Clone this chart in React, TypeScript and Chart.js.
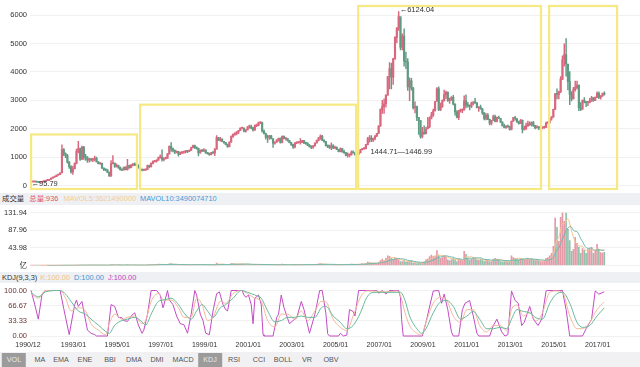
import React, { useEffect, useRef } from 'react';
import { Chart, registerables } from 'chart.js';

Chart.register(...registerables);

const FONT = "'Liberation Sans', 'Noto Sans CJK SC', Arial, sans-serif";

// Monthly data, first month 1990/12
const firstOpen = 96.05;
const closes = [
  127.61,
  129.97, 133.01, 120.19, 113.94, 114.83, 137.56, 145.03, 178.43, 180.92, 218.6, 259.6, 292.75,
  313.24, 364.45, 384.05, 445, 1265.79, 1119.38, 1042.01, 820, 660, 480, 590, 780.39,
  1200, 1300, 930, 1350, 1000, 980, 900, 920, 900, 930, 960, 833,
  770, 780, 610, 560, 550, 470, 333, 770, 790, 670, 710, 648,
  560, 550, 650, 560, 700, 630, 720, 750, 720, 720, 620, 555,
  540, 540, 570, 700, 660, 780, 850, 860, 890, 980, 1000, 917,
  950, 960, 1110, 1380, 1300, 1240, 1170, 1200, 1100, 1160, 1170, 1194,
  1220, 1200, 1240, 1330, 1410, 1340, 1310, 1150, 1240, 1210, 1250, 1146,
  1130, 1090, 1160, 1150, 1280, 1690, 1600, 1630, 1550, 1510, 1440, 1367,
  1530, 1720, 1800, 1840, 1890, 1930, 2020, 2020, 1910, 1960, 2070, 2073,
  2030, 1960, 2110, 2120, 2210, 2220, 1920, 1830, 1700, 1690, 1750, 1646,
  1490, 1530, 1600, 1660, 1520, 1730, 1650, 1650, 1580, 1510, 1440, 1357,
  1500, 1510, 1520, 1520, 1580, 1490, 1480, 1420, 1370, 1350, 1400, 1497,
  1590, 1680, 1740, 1590, 1550, 1400, 1390, 1340, 1400, 1320, 1340, 1266,
  1190, 1300, 1180, 1160, 1060, 1080, 1080, 1160, 1155, 1090, 1100, 1161,
  1260, 1300, 1300, 1440, 1640, 1670, 1610, 1660, 1750, 1840, 2100, 2675,
  2790, 2880, 3180, 3840, 4110, 3820, 4470, 5220, 5550, 5950, 4870, 5260,
  4380, 4350, 3470, 3690, 3430, 2740, 2780, 2400, 2290, 1730, 1870, 1820,
  1990, 2080, 2370, 2480, 2630, 2960, 3410, 2670, 2780, 2990, 3200, 3280,
  2990, 3050, 3110, 2870, 2590, 2400, 2640, 2640, 2660, 2980, 2820, 2810,
  2790, 2900, 2930, 2910, 2740, 2760, 2700, 2570, 2360, 2470, 2330, 2199,
  2290, 2430, 2260, 2400, 2370, 2230, 2100, 2050, 2090, 2070, 1980, 2270,
  2390, 2360, 2240, 2180, 2300, 1980, 1990, 2100, 2170, 2140, 2220, 2116,
  2030, 2060, 2030, 2030, 2040, 2050, 2200, 2220, 2360, 2420, 2680, 3234,
  3210, 3310, 3750, 4440, 4610, 4280, 3660, 3210, 3050, 3380, 3450, 3540,
  2740, 2690, 3000, 2940, 2920, 2930, 2980, 3090, 3000, 3100, 3250, 3100,
  3160, 3240, 3220,
];
const highs = [
  127.61,
  131, 134, 134, 121, 115, 138, 146, 180, 191, 219, 260, 293,
  320, 365, 390, 445, 1429, 1300, 1150, 1100, 850, 700, 680, 800,
  1280, 1558, 1320, 1392, 1380, 1100, 1020, 960, 950, 960, 1040, 1000,
  840, 800, 790, 620, 580, 560, 470, 880, 1052, 790, 760, 720,
  650, 570, 650, 660, 926, 720, 740, 780, 800, 760, 730, 640,
  560, 560, 590, 720, 720, 800, 870, 880, 900, 1000, 1080, 1258,
  980, 1000, 1130, 1400, 1510, 1320, 1260, 1220, 1200, 1180, 1190, 1210,
  1240, 1230, 1260, 1350, 1420, 1420, 1360, 1320, 1260, 1270, 1300, 1260,
  1170, 1140, 1170, 1190, 1300, 1756, 1700, 1700, 1650, 1560, 1520, 1460,
  1540, 1750, 1820, 1860, 1900, 1940, 2030, 2040, 2030, 1970, 2080, 2125,
  2130, 2050, 2140, 2160, 2230, 2245, 2230, 1960, 1850, 1780, 1770, 1770,
  1650, 1540, 1620, 1670, 1680, 1750, 1750, 1680, 1650, 1590, 1520, 1450,
  1510, 1530, 1540, 1650, 1590, 1590, 1530, 1510, 1440, 1400, 1410, 1500,
  1600, 1690, 1783, 1770, 1620, 1560, 1420, 1420, 1500, 1440, 1390, 1360,
  1270, 1330, 1310, 1250, 1170, 1150, 1100, 1220, 1225, 1160, 1110, 1180,
  1270, 1300, 1310, 1450, 1700, 1760, 1760, 1670, 1760, 1840, 2100, 2700,
  3000, 3050, 3200, 3850, 4330, 4310, 4480, 5250, 5560, 6124.04, 5900, 5340,
  5520, 4700, 4470, 3790, 3780, 3460, 2950, 2800, 2400, 2300, 2050, 2100,
  2050, 2400, 2420, 2580, 2690, 2960, 3450, 3480, 2900, 3020, 3360, 3330,
  3300, 3080, 3130, 3180, 2880, 2640, 2650, 2690, 2700, 3160, 3190, 2930,
  2840, 2940, 2960, 3070, 2920, 2770, 2830, 2720, 2560, 2540, 2530, 2340,
  2300, 2480, 2480, 2410, 2450, 2370, 2240, 2160, 2110, 2130, 2090, 2270,
  2400, 2440, 2340, 2270, 2330, 2310, 2090, 2200, 2270, 2240, 2240, 2260,
  2120, 2110, 2080, 2090, 2060, 2090, 2230, 2250, 2370, 2430, 2690, 3240,
  3410, 3330, 3840, 4570, 4990, 5178, 4180, 4010, 3310, 3460, 3680, 3680,
  3540, 2920, 3020, 3100, 2950, 2960, 3070, 3140, 3100, 3120, 3300, 3300,
  3170, 3260, 3300,
];
const lows = [
  95.79,
  127, 129, 120, 105, 104, 114, 136, 145, 170, 180, 218, 259,
  290, 312, 360, 380, 617, 1050, 980, 790, 600, 430, 386, 580,
  760, 1150, 880, 910, 920, 880, 810, 820, 860, 840, 870, 830,
  760, 740, 600, 520, 510, 450, 325, 330, 760, 640, 650, 600,
  540, 524, 540, 550, 540, 600, 620, 690, 700, 690, 610, 540,
  512, 520, 530, 560, 620, 650, 760, 820, 820, 880, 960, 855,
  870, 930, 950, 1100, 1200, 1180, 1120, 1150, 1030, 1090, 1120, 1130,
  1150, 1160, 1190, 1240, 1320, 1300, 1280, 1040, 1140, 1190, 1200, 1130,
  1100, 1060, 1080, 1120, 1050, 1280, 1580, 1560, 1540, 1480, 1430, 1340,
  1360, 1530, 1690, 1760, 1780, 1830, 1930, 1990, 1890, 1880, 1960, 2010,
  1990, 1910, 1940, 2070, 2100, 2180, 1880, 1820, 1630, 1514, 1620, 1640,
  1340, 1460, 1520, 1560, 1490, 1500, 1640, 1600, 1560, 1500, 1410, 1310,
  1320, 1470, 1490, 1460, 1510, 1470, 1450, 1400, 1350, 1300, 1310, 1380,
  1490, 1570, 1620, 1580, 1520, 1390, 1330, 1300, 1260, 1300, 1300, 1260,
  1180, 1180, 1170, 1130, 1040, 998, 1004, 1070, 1130, 1060, 1080, 1090,
  1150, 1250, 1270, 1290, 1430, 1530, 1540, 1540, 1610, 1720, 1830, 2080,
  2540, 2540, 2760, 3180, 3400, 3400, 3560, 4440, 5030, 5460, 4780, 4780,
  4200, 4120, 3350, 2990, 3360, 2690, 2560, 2280, 1800, 1664, 1680, 1810,
  1840, 2040, 2040, 2350, 2430, 2630, 2990, 2640, 2640, 2750, 2970, 3060,
  2960, 2890, 3000, 2840, 2480, 2380, 2320, 2580, 2570, 2650, 2730, 2760,
  2660, 2740, 2840, 2890, 2730, 2610, 2690, 2500, 2310, 2310, 2320, 2130,
  2130, 2290, 2240, 2240, 2360, 2220, 2100, 2030, 2010, 2050, 1950, 1960,
  2260, 2300, 2220, 2160, 2180, 1849, 1950, 1980, 2080, 2120, 2090, 2080,
  1990, 2030, 1970, 2000, 1990, 2010, 2050, 2190, 2200, 2300, 2400, 2670,
  3050, 3050, 3270, 3730, 4200, 3850, 3370, 2850, 2980, 3050, 3320, 3400,
  2640, 2640, 2680, 2910, 2780, 2810, 2910, 2960, 2960, 2990, 3090, 3060,
  3040, 3140, 3180,
];
// Volume, unit 亿
const volumes = [
  0.05,
  0.05, 0.05, 0.05, 0.05, 0.05, 0.05, 0.1, 0.1, 0.1, 0.1, 0.1, 0.2,
  0.2, 0.2, 0.3, 0.3, 0.5, 0.4, 0.3, 0.3, 0.3, 0.3, 0.5, 0.6,
  0.8, 1, 0.8, 1, 0.7, 0.8, 0.8, 0.8, 0.8, 0.9, 1, 0.9,
  0.6, 0.5, 0.8, 0.7, 0.7, 0.5, 0.6, 2.5, 2.6, 1.2, 1.2, 0.9,
  0.6, 0.5, 0.7, 0.6, 2, 0.8, 1.2, 1.3, 0.9, 0.8, 0.7, 0.6,
  0.5, 0.6, 0.9, 2, 1.8, 2.5, 2.6, 2.2, 2, 3.5, 3.2, 3,
  1.5, 1.8, 2.5, 4, 4.5, 2.5, 1.8, 2, 1.6, 1.8, 1.5, 1.6,
  1.6, 1.5, 2.2, 2.5, 3.2, 2.5, 2.4, 2, 2.2, 1.8, 2, 1.4,
  1.2, 1, 1.6, 1.3, 2.5, 6, 3.5, 3, 2.5, 1.6, 1.3, 1.2,
  3, 5, 4.5, 3.8, 3.5, 3, 3.5, 3.8, 2.8, 2.2, 3.5, 3,
  2, 1.8, 3, 2.5, 2.6, 2.5, 2.4, 2, 1.8, 2.2, 2, 1.6,
  1.4, 1.3, 1.8, 2, 1.8, 3.5, 2.2, 1.6, 1.4, 1.3, 1.4, 1.5,
  2.2, 1.8, 2, 3, 2.6, 2.2, 2, 1.8, 1.6, 1.8, 2.2, 2.6,
  3, 4, 5, 3.5, 2.5, 2.2, 2, 2, 2.5, 2, 2, 1.8,
  1.8, 2.5, 2.5, 2.8, 2.6, 3, 2.5, 3.5, 2.8, 2.2, 2.2, 3,
  3.5, 4.5, 3.8, 5.5, 8.5, 7.5, 6, 4.5, 5, 4.5, 8, 12,
  16, 12, 18, 24, 23, 18, 15, 18, 16, 14, 10, 10,
  12, 8, 9, 10, 12, 6, 7, 5, 7, 6, 8, 9,
  14, 16, 22, 26, 22, 24, 37, 25, 18, 20, 25, 22,
  14, 12, 15, 18, 15, 10, 16, 15, 12, 35, 28, 18,
  14, 16, 20, 18, 15, 13, 16, 14, 10, 14, 13, 10,
  10, 16, 18, 16, 14, 10, 9, 10, 10, 9, 10, 24,
  20, 18, 16, 13, 18, 17, 14, 16, 18, 15, 17, 13,
  12, 14, 12, 10, 10, 12, 18, 20, 24, 30, 48, 118,
  95, 60, 120, 131.94, 110, 131, 90, 62, 35, 40, 70, 55,
  45, 30, 42, 38, 30, 40, 42, 45, 30, 36, 53, 40,
  32, 31, 33,
];

// KDJ lines: [month index, value]
const kLine: [number, number][] = [
  [0, 93], [4, 83], [8, 100], [16, 100], [19, 83], [22, 55], [26, 62], [30, 55], [33, 27], [37, 13], [41, 3], [43, 27],
  [46, 48], [50, 37], [53, 41], [57, 44], [61, 27], [63, 34], [66, 76], [70, 93], [73, 79], [77, 79], [81, 62], [84, 41],
  [88, 41], [91, 83], [94, 69], [97, 34], [100, 41], [104, 76], [107, 72], [111, 93], [115.5, 100], [119, 93], [123, 83],
  [126.5, 76], [130, 34], [134, 20], [137.5, 48], [141, 48], [145, 37], [148.5, 55], [152, 34], [156, 55], [159.5, 76],
  [162, 75], [166, 37], [170, 19], [173.5, 12], [177, 44], [181, 85], [184.5, 99], [188, 99], [195, 97], [201, 99],
  [203, 89], [205.5, 51], [208, 23], [212, 6], [214.6, 2], [217, 30], [221, 72], [225, 85], [228.5, 78], [232, 44],
  [236, 30], [239.5, 58], [243, 58], [246.5, 23], [250.4, 9], [254, 23], [257.7, 23], [261.4, 12], [264, 58], [267, 68],
  [270.5, 44], [274, 51], [277.5, 33], [281, 51], [285, 96], [288.6, 99], [292, 96], [296, 44], [300, 16], [303, 16],
  [307, 30], [311, 58], [315, 75],
];
const dLine: [number, number][] = [
  [0, 96], [4, 86], [8, 97], [16, 100], [19, 92], [22, 76], [26, 55], [30, 48], [33, 37], [37, 24], [41, 10], [43, 6],
  [46, 24], [50, 34], [53, 37], [57, 41], [61, 31], [63, 24], [66, 48], [70, 76], [73, 79], [77, 83], [81, 69], [84, 51],
  [88, 37], [91, 55], [94, 69], [97, 55], [100, 41], [104, 62], [107, 69], [111, 83], [115.5, 100], [119, 96], [123, 90],
  [126.5, 83], [130, 55], [134, 31], [137.5, 34], [141, 41], [145, 41], [148.5, 44], [152, 41], [156, 41], [159.5, 62],
  [162, 65], [166, 44], [170, 30], [173.5, 16], [177, 23], [181, 51], [184.5, 85], [188, 96], [201, 96], [203, 96],
  [205.5, 78], [208, 44], [212, 16], [214.6, 6], [217, 16], [221, 51], [225, 75], [228.5, 78], [232, 65], [236, 37],
  [239.5, 44], [243, 54], [246.5, 37], [250.4, 16], [254, 16], [257.7, 19], [261.4, 16], [264, 37], [267, 58],
  [270.5, 54], [274, 51], [277.5, 40], [281, 37], [285, 72], [288.6, 92], [292, 96], [296, 72], [300, 30], [303, 19],
  [307, 23], [311, 44], [315, 62],
];
const jLine: [number, number][] = [
  [0, 100], [2, 70], [4, 37], [6, 90], [8, 100], [16, 100], [18, 60], [21, 3], [24, 69], [25, 79], [26, 65], [28, 76],
  [29, 55], [31, 13], [33, 6], [35, 3], [36, 0], [42, 0], [44, 69], [46, 65], [48, 41], [50, 40], [51, 34], [53, 32],
  [55, 44], [57, 51], [59, 24], [61, 6], [62, 13], [64, 48], [66, 100], [69, 100], [71, 90], [72.5, 62], [73, 68],
  [75, 100], [76, 79], [78, 69], [80, 44], [82, 27], [84, 25], [86, 6], [88, 48], [90, 100], [91, 90], [93, 48],
  [94.5, 34], [96, 6], [98, 3], [100, 55], [102, 93], [103.5, 97], [105.5, 69], [107, 58], [108, 55], [110, 100],
  [116, 100], [117, 90], [118, 85], [119.5, 90], [121, 69], [122, 27], [123, 83], [125, 90], [126.5, 69], [127.5, 3],
  [128, 0], [133, 0], [135, 41], [136, 48], [137.5, 90], [139, 62], [142, 27], [144, 34], [146, 40], [148.5, 76],
  [150, 58], [153, 6], [156, 48], [158.6, 100], [160, 100], [162, 50], [163, 5], [164, 0], [169, 0], [170, 6],
  [171.6, 0], [173.5, 2], [175, 58], [177, 54], [178, 44], [180, 100], [190, 100], [191, 94], [193, 100], [195, 92],
  [197, 100], [202, 100], [203, 85], [203.6, 37], [204.5, 0], [215, 0], [217, 30], [221, 99], [224, 100], [225.6, 72],
  [227, 92], [229, 58], [231, 9], [232, 0], [235, 0], [237, 58], [238.5, 72], [241, 78], [243, 44], [245, 6], [246, 0],
  [252, 0], [254, 23], [256, 37], [258.6, 9], [260.4, 0], [262, 3], [264, 99], [266, 78], [267.7, 72], [269.6, 23],
  [271, 30], [274, 65], [276, 37], [278.6, 23], [280.6, 37], [283, 99], [284, 100], [292, 100], [294, 58], [296, 0],
  [303, 0], [305, 16], [308, 37], [310, 99], [312, 92], [315, 97],
];

const priceTicks = [0, 1000, 2000, 3000, 4000, 5000, 6000];
const volTicks = [0, 43.98, 87.96, 131.94];
const kdjTicks = [0, 33.33, 66.67, 100];
const dateLabels = ['1990/12', '1993/01', '1995/01', '1997/01', '1999/01', '2001/01', '2003/01', '2005/01',
  '2007/01', '2009/01', '2011/01', '2013/01', '2015/01', '2017/01'];
const tabs = ['VOL', 'MA', 'EMA', 'ENE', 'BBI', 'DMA', 'DMI', 'MACD', 'KDJ', 'RSI', 'CCI', 'BOLL', 'VR', 'OBV'];
const activeTabs = ['VOL', 'KDJ'];
const tabCenters = [14, 40, 61, 85, 110, 134, 157, 183, 210, 234, 259, 283, 307, 331];

// highlight boxes (month-index ranges, top value)
const boxes = [
  { from: -0.6, to: 58.2, top: 1797 },
  { from: 59.3, to: 178.6, top: 2847 },
  { from: 179.1, to: 280.2, top: null },
  { from: 284, to: 322, top: null },
];

const X_MIN = -0.55;
const X_MAX = 334.6;
const UP = '#d9677e';
const DOWN = '#5f9a83';

const monthIndex = (label: string) => {
  const [y, m] = label.split('/').map(Number);
  return (y - 1990) * 12 + (m - 12);
};
const opens = closes.map((c, i) => (i === 0 ? firstOpen : closes[i - 1]));
const isUp = closes.map((c, i) => c >= opens[i]);
const movingAvg = (arr: number[], n: number) =>
  arr.map((_, i) => (i < n - 1 ? null : arr.slice(i - n + 1, i + 1).reduce((a, b) => a + b, 0) / n));

const fixedWidth = (w: number) => (scale: any) => { scale.width = w; };

function PriceChart() {
  const ref = useRef<HTMLCanvasElement>(null);
  useEffect(() => {
    const overlay = {
      id: 'overlay',
      afterDatasetsDraw(chart: any) {
        const { ctx, chartArea, scales } = chart;
        const xs = scales.x; const ys = scales.y;
        ctx.save();
        ctx.strokeStyle = 'rgba(245, 232, 125, 0.95)';
        ctx.lineWidth = 2.2;
        boxes.forEach((b) => {
          const l = xs.getPixelForValue(b.from);
          const r = xs.getPixelForValue(b.to);
          const t = b.top === null ? chartArea.top - 1.5 : ys.getPixelForValue(b.top);
          const bt = chartArea.bottom + 3.5;
          ctx.strokeRect(l + 1.2, t, r - l - 1.2, bt - t);
        });
        ctx.fillStyle = '#333';
        ctx.font = `7.5px ${FONT}`;
        ctx.textBaseline = 'middle';
        ctx.textAlign = 'left';
        const minIdx = lows.indexOf(Math.min(...lows));
        const maxIdx = highs.indexOf(Math.max(...highs));
        ctx.fillText('←' + lows[minIdx].toFixed(2), xs.getPixelForValue(minIdx) + 0.5, ys.getPixelForValue(lows[minIdx]) + 1);
        ctx.fillText('←' + highs[maxIdx].toFixed(2), xs.getPixelForValue(maxIdx) + 1, ys.getPixelForValue(highs[maxIdx]) - 2);
        ctx.fillText('1444.71—1446.99', xs.getPixelForValue(186.5), ys.getPixelForValue(1200));
        ctx.restore();
      },
    };
    const chart = new Chart(ref.current!, {
      type: 'bar',
      data: {
        datasets: [
          {
            data: closes.map((c, i) => ({ x: i, y: [lows[i], highs[i]] })) as any,
            backgroundColor: isUp.map((u) => (u ? UP : DOWN)),
            barThickness: 0.8,
            grouped: false,
            order: 2,
          } as any,
          {
            data: closes.map((c, i) => ({ x: i, y: [opens[i], c] })) as any,
            backgroundColor: isUp.map((u) => (u ? UP : DOWN)),
            barThickness: 1.5,
            minBarLength: 1,
            grouped: false,
            order: 1,
          } as any,
        ],
      },
      options: {
        animation: false,
        responsive: false,
        maintainAspectRatio: false,
        events: [],
        layout: { padding: { top: 3, bottom: 5, left: 0, right: 0 } },
        plugins: { legend: { display: false }, tooltip: { enabled: false } },
        scales: {
          x: { type: 'linear', min: X_MIN, max: X_MAX, offset: false, display: false },
          y: {
            min: 0, max: 6271,
            afterFit: fixedWidth(30),
            afterBuildTicks: (s: any) => { s.ticks = priceTicks.map((v) => ({ value: v })); },
            grid: { color: '#f1f1f1', drawTicks: false },
            border: { display: false },
            ticks: {
              padding: 3, color: '#333', font: { size: 7.5, family: FONT },
              callback: (v: any) => String(v),
            },
          },
        },
      },
      plugins: [overlay],
    } as any);
    return () => chart.destroy();
  }, []);
  return <canvas ref={ref} width={640} height={193} style={{ position: 'absolute', left: 0, top: 0 }} />;
}

function VolumeChart() {
  const ref = useRef<HTMLCanvasElement>(null);
  useEffect(() => {
    const chart = new Chart(ref.current!, {
      type: 'bar',
      data: {
        datasets: [
          {
            type: 'line',
            data: movingAvg(volumes, 10).map((v, i) => ({ x: i, y: v })) as any,
            borderColor: '#6fb9b0', borderWidth: 1, pointRadius: 0, tension: 0.3, order: 0,
          } as any,
          {
            type: 'line',
            data: movingAvg(volumes, 5).map((v, i) => ({ x: i, y: v })) as any,
            borderColor: '#f2c48e', borderWidth: 1, pointRadius: 0, tension: 0.3, order: 1,
          } as any,
          {
            data: volumes.map((v, i) => ({ x: i, y: v })) as any,
            backgroundColor: isUp.map((u) => (u ? 'rgba(220,110,130,0.7)' : 'rgba(100,165,135,0.7)')),
            barThickness: 1,
            grouped: false,
            order: 2,
          } as any,
        ],
      },
      options: {
        animation: false,
        responsive: false,
        maintainAspectRatio: false,
        events: [],
        layout: { padding: { top: 4, bottom: 4, left: 0, right: 0 } },
        plugins: { legend: { display: false }, tooltip: { enabled: false } },
        scales: {
          x: { type: 'linear', min: X_MIN, max: X_MAX, offset: false, display: false },
          y: {
            min: 0, max: 131.94,
            afterFit: fixedWidth(30),
            afterBuildTicks: (s: any) => { s.ticks = volTicks.map((v) => ({ value: v })); },
            grid: { color: '#f1f1f1', drawTicks: false },
            border: { display: false },
            ticks: {
              padding: 3, color: '#333', font: { size: 7.5, family: FONT },
              callback: (v: any) => (v === 0 ? '亿' : Number(v).toFixed(2)),
            },
          },
        },
      },
    } as any);
    return () => chart.destroy();
  }, []);
  return <canvas ref={ref} width={640} height={68} style={{ position: 'absolute', left: 0, top: 205 }} />;
}

function KdjChart() {
  const ref = useRef<HTMLCanvasElement>(null);
  useEffect(() => {
    const toPts = (arr: [number, number][]) => arr.map(([x, y]) => ({ x, y }));
    const dateAxis = {
      id: 'dateAxis',
      afterDraw(chart: any) {
        const { ctx, chartArea, scales } = chart;
        ctx.save();
        ctx.fillStyle = '#333';
        ctx.font = `7px ${FONT}`;
        ctx.textAlign = 'center';
        ctx.textBaseline = 'middle';
        dateLabels.forEach((l) => {
          ctx.fillText(l, scales.x.getPixelForValue(monthIndex(l)) - 3, chartArea.bottom + 9);
        });
        ctx.restore();
      },
    };
    const chart = new Chart(ref.current!, {
      type: 'line',
      data: {
        datasets: [
          { data: toPts(dLine), borderColor: '#67b99a', borderWidth: 1, pointRadius: 0, cubicInterpolationMode: 'monotone', clip: false },
          { data: toPts(kLine), borderColor: '#f3b79c', borderWidth: 1, pointRadius: 0, cubicInterpolationMode: 'monotone', clip: false },
          { data: toPts(jLine), borderColor: '#c24cc4', borderWidth: 1, pointRadius: 0, tension: 0, clip: false },
        ],
      },
      options: {
        animation: false,
        responsive: false,
        maintainAspectRatio: false,
        events: [],
        layout: { padding: { top: 5, bottom: 0, left: 0, right: 0 } },
        plugins: { legend: { display: false }, tooltip: { enabled: false } },
        scales: {
          x: {
            type: 'linear', min: X_MIN, max: X_MAX, offset: false,
            afterFit: (s: any) => { s.height = 16; },
            grid: { display: false, drawTicks: false },
            border: { display: false },
            ticks: { display: false },
          },
          y: {
            min: 0, max: 100,
            afterFit: fixedWidth(30),
            afterBuildTicks: (s: any) => { s.ticks = kdjTicks.map((v) => ({ value: v })); },
            grid: { color: '#f1f1f1', drawTicks: false },
            border: { display: false },
            ticks: {
              padding: 3, color: '#6b3434', font: { size: 7.5, family: FONT },
              callback: (v: any) => Number(v).toFixed(2),
            },
          },
        },
      },
      plugins: [dateAxis],
    } as any);
    return () => chart.destroy();
  }, []);
  return <canvas ref={ref} width={640} height={69} style={{ position: 'absolute', left: 0, top: 283 }} />;
}

const band: React.CSSProperties = { position: 'absolute', left: 0, width: 640, background: '#eff0f4' };
const headerText: React.CSSProperties = {
  position: 'absolute', left: 2, fontFamily: FONT, fontSize: 7.4, whiteSpace: 'nowrap', lineHeight: '10px',
};

export default function App() {
  useEffect(() => { document.body.style.margin = '0'; }, []);
  return (
    <div style={{ position: 'fixed', left: 0, top: 0, width: 640, height: 367, background: '#fff', overflow: 'hidden', fontFamily: FONT }}>
      <div style={{ ...band, top: 193, height: 12 }} />
      <div style={{ ...band, top: 272, height: 11 }} />
      <div style={{ ...band, top: 352, height: 15, background: '#f1f1f3' }} />
      <PriceChart />
      <VolumeChart />
      <KdjChart />
      <div style={{ ...headerText, top: 194 }}>
        <span style={{ color: '#333' }}>成交量 </span>
        <span style={{ color: '#e05468', marginLeft: 3 }}>总量:936</span>
        <span style={{ color: '#f0cf90', marginLeft: 5 }}>MAVOL5:3621490000</span>
        <span style={{ color: '#3f9ad6', marginLeft: 4 }}>MAVOL10:3490074710</span>
      </div>
      <div style={{ ...headerText, top: 273 }}>
        <span style={{ color: '#333' }}>KDJ(9,3,3)</span>
        <span style={{ color: '#f0c27f', marginLeft: 3 }}>K:100.00</span>
        <span style={{ color: '#3b95d3', marginLeft: 4 }}>D:100.00</span>
        <span style={{ color: '#c03cc0', marginLeft: 4 }}>J:100.00</span>
      </div>
      {tabs.map((t, i) => {
        const active = activeTabs.includes(t);
        return (
          <div
            key={t}
            style={{
              position: 'absolute', top: 353, height: 14, left: tabCenters[i], transform: 'translateX(-50%)',
              padding: '0 5px', lineHeight: '14px', fontSize: 7.2, fontFamily: FONT,
              color: active ? '#e8e8e8' : '#555', background: active ? '#9b9b9b' : 'transparent', whiteSpace: 'nowrap',
            }}
          >
            {t}
          </div>
        );
      })}
    </div>
  );
}
